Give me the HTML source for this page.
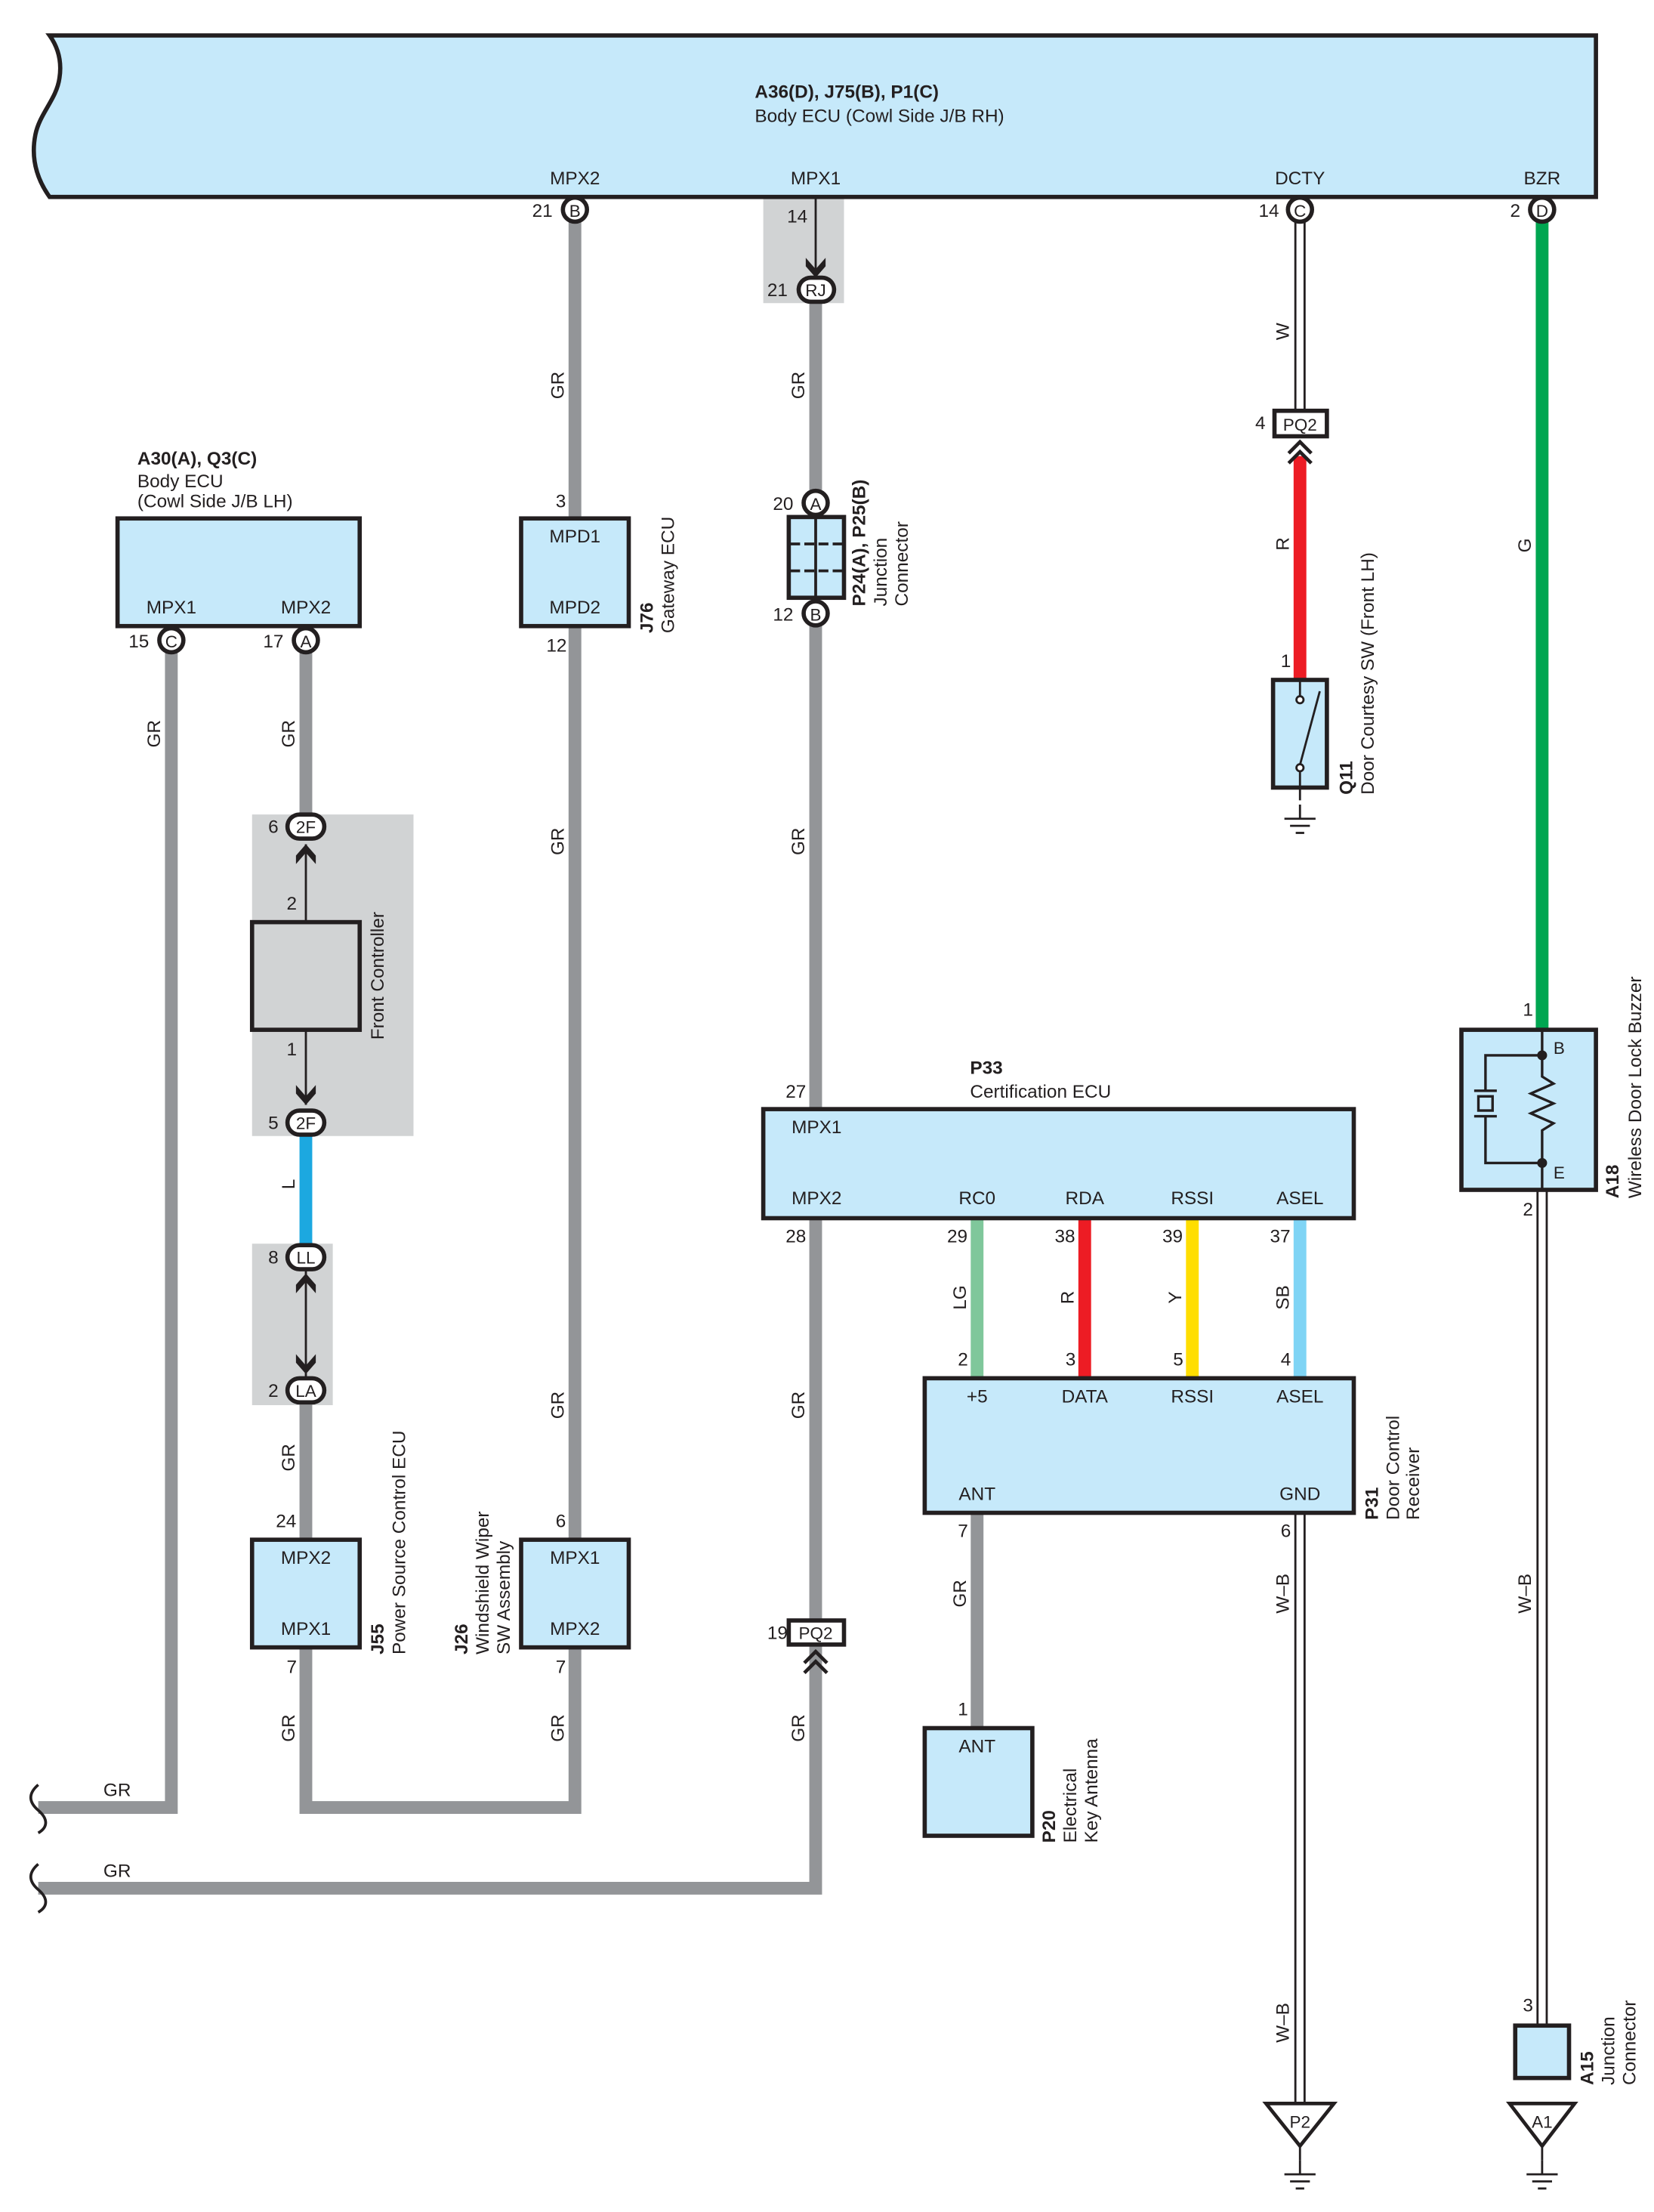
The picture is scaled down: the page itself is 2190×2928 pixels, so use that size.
<!DOCTYPE html>
<html><head><meta charset="utf-8"><style>
html,body{margin:0;padding:0;background:#fff}
svg{display:block}
text{font-family:"Liberation Sans",sans-serif;fill:#231f20}
</style></head><body>
<svg width="2190" height="2928" viewBox="0 0 1168 1561.6" xmlns="http://www.w3.org/2000/svg">
<defs>
<g id="gnd"><line x1="0" y1="0" x2="0" y2="10" stroke="#231f20" stroke-width="1.5"/><line x1="-11" y1="10" x2="11" y2="10" stroke="#231f20" stroke-width="1.5"/><line x1="-7" y1="15" x2="7" y2="15" stroke="#231f20" stroke-width="1.5"/><line x1="-3" y1="20" x2="3" y2="20" stroke="#231f20" stroke-width="1.5"/></g>
<g id="chev"><path d="M-8,0 L0,-8 L8,0 M-8,7 L0,-1 L8,7" fill="none" stroke="#231f20" stroke-width="2.5"/></g>
<g id="arrdn"><path d="M-7,-10 L0,-2 L7,-10 L7,-4 L0,4 L-7,-4Z" fill="#231f20"/></g>
<g id="arrup"><path d="M-7,10 L0,2 L7,10 L7,4 L0,-4 L-7,4Z" fill="#231f20"/></g>
</defs>

<!-- gray shaded boxes -->
<rect x="539" y="140" width="57" height="74" fill="#d1d3d4"/>
<rect x="178" y="575" width="114" height="227" fill="#d1d3d4"/>
<rect x="178" y="878" width="57" height="114" fill="#d1d3d4"/>

<!-- gray wires -->
<g stroke="#939598" stroke-width="9" fill="none">
<path d="M406,156 V366"/>
<path d="M406,442 V1087"/>
<path d="M406,1163 V1276 H216 V1163"/>
<path d="M216,1087 V990"/>
<path d="M216,460 V575"/>
<path d="M121,460 V1276 H27"/>
<path d="M576,212 V355"/>
<path d="M576,440 V783"/>
<path d="M576,860 V1333 H27"/>
<path d="M690,1068 V1220"/>
</g>
<line x1="216" y1="800" x2="216" y2="880" stroke="#1ca8e0" stroke-width="9"/>
<line x1="918" y1="322" x2="918" y2="480" stroke="#ed1c24" stroke-width="9"/>
<line x1="1089" y1="156" x2="1089" y2="727" stroke="#00a651" stroke-width="9"/>
<line x1="690" y1="860" x2="690" y2="973" stroke="#7fc79b" stroke-width="9"/>
<line x1="766" y1="860" x2="766" y2="973" stroke="#ed1c24" stroke-width="9"/>
<line x1="842" y1="860" x2="842" y2="973" stroke="#ffde00" stroke-width="9"/>
<line x1="918" y1="860" x2="918" y2="973" stroke="#7fd4f5" stroke-width="9"/>
<!-- double line wires -->
<g fill="none">
<path d="M918,156 V290" stroke="#231f20" stroke-width="8"/><path d="M918,156 V290" stroke="#fff" stroke-width="5"/>
<path d="M1089,840 V1430" stroke="#231f20" stroke-width="8"/><path d="M1089,840 V1430" stroke="#fff" stroke-width="5"/>
<path d="M918,1068 V1485" stroke="#231f20" stroke-width="8"/><path d="M918,1068 V1485" stroke="#fff" stroke-width="5"/>
</g>

<!-- breaks -->
<path d="M27,1260 C20,1266 20,1272 27,1278 C34,1284 34,1290 27,1294" fill="none" stroke="#231f20" stroke-width="2"/>
<path d="M27,1316 C20,1322 20,1328 27,1334 C34,1340 34,1346 27,1350" fill="none" stroke="#231f20" stroke-width="2"/>

<!-- top box -->
<path d="M35,25 H1127 V139 H35 C25,125 22,110 25,95 C28,80 40,70 42,55 C44,42 40,32 35,25Z" fill="#c6e9fa" stroke="#231f20" stroke-width="3"/>
<text x="533" y="69" font-size="13" font-weight="bold">A36(D), J75(B), P1(C)</text>
<text x="533" y="86" font-size="13">Body ECU (Cowl Side J/B RH)</text>
<g font-size="13" text-anchor="middle">
<text x="406" y="130">MPX2</text><text x="576" y="130">MPX1</text><text x="918" y="130">DCTY</text><text x="1089" y="130">BZR</text>
</g>

<!-- MPX1 thin line with arrow -->
<line x1="576" y1="140" x2="576" y2="190" stroke="#231f20" stroke-width="1.5"/>
<use href="#arrdn" x="576" y="192"/>
<text x="563" y="157" font-size="13" text-anchor="middle">14</text>

<!-- boxes -->
<g fill="#c6e9fa" stroke="#231f20" stroke-width="3">
<rect x="83" y="366" width="171" height="76"/>
<rect x="368" y="366" width="76" height="76"/>
<rect x="368" y="1087" width="76" height="76"/>
<rect x="178" y="1087" width="76" height="76"/>
<rect x="557" y="365" width="39" height="57"/>
<rect x="539" y="783" width="417" height="77"/>
<rect x="653" y="973" width="303" height="95"/>
<rect x="653" y="1220" width="76" height="76"/>
<rect x="899" y="480" width="38" height="76"/>
<rect x="1032" y="727" width="95" height="113"/>
<rect x="1070" y="1430" width="38" height="37"/>
<rect x="900" y="290" width="37" height="18" fill="#fff"/>
<rect x="557" y="1144" width="39" height="17" fill="#fff"/>
</g>
<rect x="178" y="651" width="76" height="76" fill="#d1d3d4" stroke="#231f20" stroke-width="3"/>
<!-- junction dashes -->
<line x1="576" y1="366" x2="576" y2="421" stroke="#231f20" stroke-width="2"/>
<line x1="558" y1="384" x2="595" y2="384" stroke="#231f20" stroke-width="2" stroke-dasharray="7,3"/>
<line x1="558" y1="403" x2="595" y2="403" stroke="#231f20" stroke-width="2" stroke-dasharray="7,3"/>

<!-- Front controller arrows -->
<line x1="216" y1="596" x2="216" y2="651" stroke="#231f20" stroke-width="1.5"/>
<line x1="216" y1="727" x2="216" y2="780" stroke="#231f20" stroke-width="1.5"/>
<use href="#arrup" x="216" y="600"/>
<use href="#arrdn" x="216" y="776"/>
<line x1="216" y1="896" x2="216" y2="972" stroke="#231f20" stroke-width="1.5"/>
<use href="#arrup" x="216" y="903"/>
<use href="#arrdn" x="216" y="966"/>

<!-- circle connectors -->
<g stroke="#231f20" stroke-width="3" fill="#fff">
<circle cx="406" cy="148" r="8.5"/><circle cx="918" cy="148" r="8.5"/><circle cx="1089" cy="148" r="8.5"/>
<circle cx="121" cy="452" r="8.5"/><circle cx="216" cy="452" r="8.5"/>
<circle cx="576" cy="355" r="8.5"/><circle cx="576" cy="433" r="8.5"/>
<rect x="564" y="196" width="25" height="17" rx="8.5"/>
<rect x="203" y="575" width="26" height="17" rx="8.5"/>
<rect x="203" y="784" width="26" height="17" rx="8.5"/>
<rect x="203" y="879" width="26" height="17" rx="8.5"/>
<rect x="203" y="973" width="26" height="17" rx="8.5"/>
</g>
<g font-size="12" text-anchor="middle">
<text x="406" y="153">B</text><text x="918" y="153">C</text><text x="1089" y="153">D</text>
<text x="121" y="457">C</text><text x="216" y="457">A</text>
<text x="576" y="360">A</text><text x="576" y="438">B</text>
<text x="576" y="209">RJ</text><text x="216" y="588">2F</text><text x="216" y="797">2F</text>
<text x="216" y="892">LL</text><text x="216" y="986">LA</text>
<text x="918" y="304">PQ2</text><text x="576" y="1157">PQ2</text>
</g>
<use href="#chev" x="918" y="320"/>
<use href="#chev" x="576" y="1174"/>

<!-- pin numbers -->
<g font-size="13" text-anchor="middle">
<text x="383" y="153">21</text><text x="896" y="153">14</text><text x="1070" y="153">2</text>
<text x="549" y="209">21</text>
<text x="98" y="457">15</text><text x="193" y="457">17</text>
<text x="396" y="358">3</text><text x="393" y="460">12</text>
<text x="553" y="360">20</text><text x="553" y="438">12</text>
<text x="193" y="588">6</text><text x="206" y="642">2</text><text x="206" y="745">1</text><text x="193" y="797">5</text>
<text x="193" y="892">8</text><text x="193" y="986">2</text>
<text x="202" y="1078">24</text><text x="206" y="1181">7</text>
<text x="396" y="1078">6</text><text x="396" y="1181">7</text>
<text x="549" y="1157">19</text>
<text x="890" y="303">4</text><text x="908" y="471">1</text>
<text x="562" y="775">27</text><text x="562" y="877">28</text>
<text x="676" y="877">29</text><text x="752" y="877">38</text><text x="828" y="877">39</text><text x="904" y="877">37</text>
<text x="680" y="964">2</text><text x="756" y="964">3</text><text x="832" y="964">5</text><text x="908" y="964">4</text>
<text x="680" y="1085">7</text><text x="908" y="1085">6</text>
<text x="680" y="1211">1</text>
<text x="1079" y="717">1</text><text x="1079" y="858">2</text>
<text x="1079" y="1420">3</text>
</g>

<!-- box labels -->
<g font-size="13" text-anchor="middle">
<text x="121" y="433">MPX1</text><text x="216" y="433">MPX2</text>
<text x="406" y="383">MPD1</text><text x="406" y="433">MPD2</text>
<text x="406" y="1104">MPX1</text><text x="406" y="1154">MPX2</text>
<text x="216" y="1104">MPX2</text><text x="216" y="1154">MPX1</text>
<text x="690" y="1237">ANT</text>
<text x="690" y="850">RC0</text><text x="766" y="850">RDA</text><text x="842" y="850">RSSI</text><text x="918" y="850">ASEL</text>
<text x="690" y="990">+5</text><text x="766" y="990">DATA</text><text x="842" y="990">RSSI</text><text x="918" y="990">ASEL</text>
<text x="690" y="1059">ANT</text><text x="918" y="1059">GND</text>
</g>
<text x="559" y="800" font-size="13">MPX1</text>
<text x="559" y="850" font-size="13">MPX2</text>
<text x="685" y="758" font-size="13" font-weight="bold">P33</text>
<text x="685" y="775" font-size="13">Certification ECU</text>
<text x="97" y="328" font-size="13" font-weight="bold">A30(A), Q3(C)</text>
<text x="97" y="344" font-size="13">Body ECU</text>
<text x="97" y="358" font-size="13">(Cowl Side J/B LH)</text>

<!-- switch Q11 -->
<g stroke="#231f20" stroke-width="1.5" fill="none">
<line x1="918" y1="480" x2="918" y2="492"/>
<circle cx="918" cy="494" r="2.5" fill="#fff"/>
<line x1="918" y1="540" x2="932" y2="488"/>
<circle cx="918" cy="542" r="2.5" fill="#fff"/>
<line x1="918" y1="545" x2="918" y2="565"/>
</g>
<use href="#gnd" x="918" y="568"/>

<!-- buzzer A18 -->
<g stroke="#231f20" stroke-width="1.8" fill="none">
<path d="M1089,727 V745 H1049 V770 M1041,770 H1057 M1041,788 H1057 M1049,788 V821 H1089 V840"/>
<rect x="1044" y="774" width="10" height="10"/>
<path d="M1089,745 V760 L1097,765 L1081,772 L1097,779 L1081,786 L1097,793 L1089,798 V821"/>
</g>
<circle cx="1089" cy="745" r="3.5" fill="#231f20"/>
<circle cx="1089" cy="821" r="3.5" fill="#231f20"/>
<text x="1097" y="744" font-size="12">B</text>
<text x="1097" y="832" font-size="12">E</text>

<!-- ground triangles -->
<g stroke="#231f20" stroke-width="2.5" fill="#fff">
<path d="M894,1485 H942 L918,1515Z"/>
<path d="M1066,1485 H1112 L1089,1515Z"/>
</g>
<text x="918" y="1502" font-size="12" text-anchor="middle">P2</text>
<text x="1089" y="1502" font-size="12" text-anchor="middle">A1</text>
<line x1="918" y1="1515" x2="918" y2="1525" stroke="#231f20" stroke-width="1.5"/>
<use href="#gnd" x="918" y="1525"/>
<line x1="1089" y1="1515" x2="1089" y2="1525" stroke="#231f20" stroke-width="1.5"/>
<use href="#gnd" x="1089" y="1525"/>

<!-- horizontal wire labels -->
<text x="73" y="1268" font-size="13">GR</text>
<text x="73" y="1325" font-size="13">GR</text>

<!-- rotated wire labels -->
<g font-size="13" text-anchor="middle">
<text transform="translate(398,272) rotate(-90)">GR</text>
<text transform="translate(568,272) rotate(-90)">GR</text>
<text transform="translate(910,234) rotate(-90)">W</text>
<text transform="translate(910,384) rotate(-90)">R</text>
<text transform="translate(1081,385) rotate(-90)">G</text>
<text transform="translate(113,518) rotate(-90)">GR</text>
<text transform="translate(208,518) rotate(-90)">GR</text>
<text transform="translate(398,594) rotate(-90)">GR</text>
<text transform="translate(568,594) rotate(-90)">GR</text>
<text transform="translate(208,836) rotate(-90)">L</text>
<text transform="translate(208,1029) rotate(-90)">GR</text>
<text transform="translate(398,992) rotate(-90)">GR</text>
<text transform="translate(568,992) rotate(-90)">GR</text>
<text transform="translate(682,916) rotate(-90)">LG</text>
<text transform="translate(758,916) rotate(-90)">R</text>
<text transform="translate(834,916) rotate(-90)">Y</text>
<text transform="translate(910,916) rotate(-90)">SB</text>
<text transform="translate(682,1125) rotate(-90)">GR</text>
<text transform="translate(910,1125) rotate(-90)">W–B</text>
<text transform="translate(1081,1125) rotate(-90)">W–B</text>
<text transform="translate(910,1428) rotate(-90)">W–B</text>
<text transform="translate(208,1220) rotate(-90)">GR</text>
<text transform="translate(398,1220) rotate(-90)">GR</text>
<text transform="translate(568,1220) rotate(-90)">GR</text>
</g>

<!-- rotated component labels -->
<g font-size="13">
<text transform="translate(461,447) rotate(-90)"><tspan font-weight="bold">J76</tspan></text>
<text transform="translate(476,447) rotate(-90)">Gateway ECU</text>
<text transform="translate(611,428) rotate(-90)"><tspan font-weight="bold">P24(A), P25(B)</tspan></text>
<text transform="translate(626,428) rotate(-90)">Junction</text>
<text transform="translate(641,428) rotate(-90)">Connector</text>
<text transform="translate(271,734) rotate(-90)">Front Controller</text>
<text transform="translate(271,1168) rotate(-90)"><tspan font-weight="bold">J55</tspan></text>
<text transform="translate(286,1168) rotate(-90)">Power Source Control ECU</text>
<text transform="translate(330,1168) rotate(-90)"><tspan font-weight="bold">J26</tspan></text>
<text transform="translate(345,1168) rotate(-90)">Windshield Wiper</text>
<text transform="translate(360,1168) rotate(-90)">SW Assembly</text>
<text transform="translate(955,561) rotate(-90)"><tspan font-weight="bold">Q11</tspan></text>
<text transform="translate(970,561) rotate(-90)">Door Courtesy SW (Front LH)</text>
<text transform="translate(973,1073) rotate(-90)"><tspan font-weight="bold">P31</tspan></text>
<text transform="translate(988,1073) rotate(-90)">Door Control</text>
<text transform="translate(1002,1073) rotate(-90)">Receiver</text>
<text transform="translate(745,1301) rotate(-90)"><tspan font-weight="bold">P20</tspan></text>
<text transform="translate(760,1301) rotate(-90)">Electrical</text>
<text transform="translate(775,1301) rotate(-90)">Key Antenna</text>
<text transform="translate(1143,846) rotate(-90)"><tspan font-weight="bold">A18</tspan></text>
<text transform="translate(1159,846) rotate(-90)">Wireless Door Lock Buzzer</text>
<text transform="translate(1125,1472) rotate(-90)"><tspan font-weight="bold">A15</tspan></text>
<text transform="translate(1140,1472) rotate(-90)">Junction</text>
<text transform="translate(1155,1472) rotate(-90)">Connector</text>
</g>
</svg>
</body></html>
